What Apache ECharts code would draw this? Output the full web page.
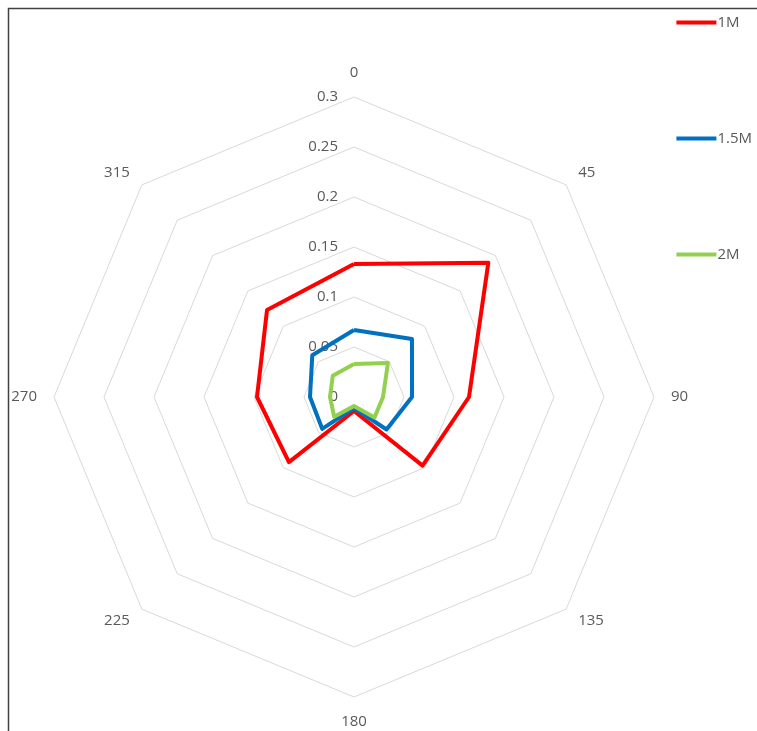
<!DOCTYPE html>
<html>
<head>
<meta charset="utf-8">
<style>
  html, body { margin: 0; padding: 0; background: #ffffff; }
  #chart { width: 757px; height: 731px; }
</style>
<script src="https://cdn.jsdelivr.net/npm/echarts@6/dist/echarts.min.js"></script>
</head>
<body>
<div id="chart"></div>
<script>
// Directions (degrees), listed clockwise from the top
const directions = ['0', '45', '90', '135', '180', '225', '270', '315'];
const seriesNames = ['1M', '1.5M', '2M'];
// Values per direction, same order as `directions`
const values1M   = [0.133, 0.190, 0.115, 0.097, 0.014, 0.092, 0.097, 0.123];
const values15M  = [0.067, 0.082, 0.058, 0.046, 0.011, 0.045, 0.044, 0.059];
const values2M   = [0.033, 0.048, 0.029, 0.029, 0.009, 0.028, 0.024, 0.030];
const radialMax = 0.3;
const radialStep = 0.05;

const colors = ['#ff0000', '#0070c0', '#92d050'];
const textColor = '#595959';
const font = '"Open Sans", "Noto Sans", sans-serif';

// ECharts lays indicators out counter-clockwise; reorder so directions run clockwise
const order = directions.map((_, i) => (directions.length - i) % directions.length);
const pick = arr => order.map(i => arr[i]);

const indicator = order.map((i, k) => {
  const ind = { name: directions[i], min: 0, max: radialMax };
  if (k === 0) {
    // radial tick labels only along the top (0°) spoke
    ind.axisLabel = {
      show: true, color: textColor, fontSize: 15, fontFamily: font, margin: 16,
      formatter: v => String(+v.toFixed(2))
    };
  }
  return ind;
});

const allValues = [values1M, values15M, values2M];

const chart = echarts.init(document.getElementById('chart'), null, { renderer: 'canvas' });
chart.setOption({
  backgroundColor: '#ffffff',
  animation: false,
  legend: {
    orient: 'vertical',
    right: 0,
    top: 10,
    itemGap: 101,
    itemWidth: 40,
    itemHeight: 4,
    icon: 'rect',
    textStyle: { color: textColor, fontSize: 15, fontFamily: font, padding: [0, 0, 0, -4] },
    data: seriesNames
  },
  radar: {
    center: [354, 397],
    radius: 300,
    startAngle: 90,
    splitNumber: Math.round(radialMax / radialStep),
    shape: 'polygon',
    indicator: indicator,
    nameGap: 17,
    axisName: { color: textColor, fontSize: 15, fontFamily: font },
    axisLine: { show: false },
    axisTick: { show: false },
    axisLabel: { show: false },
    splitLine: { lineStyle: { color: '#d9d9d9', width: 1 } },
    splitArea: { show: false }
  },
  series: [{
    type: 'radar',
    symbol: 'none',
    data: allValues.map((vals, s) => ({
      name: seriesNames[s],
      value: pick(vals),
      lineStyle: { color: colors[s], width: 4 },
      itemStyle: { color: colors[s] }
    }))
  }],
  graphic: [{
    type: 'polyline',
    shape: { points: [[8.5, 731], [8.5, 8.5], [757, 8.5]] },
    style: { stroke: '#404040', lineWidth: 1.5, fill: null }
  }]
});
</script>
</body>
</html>
